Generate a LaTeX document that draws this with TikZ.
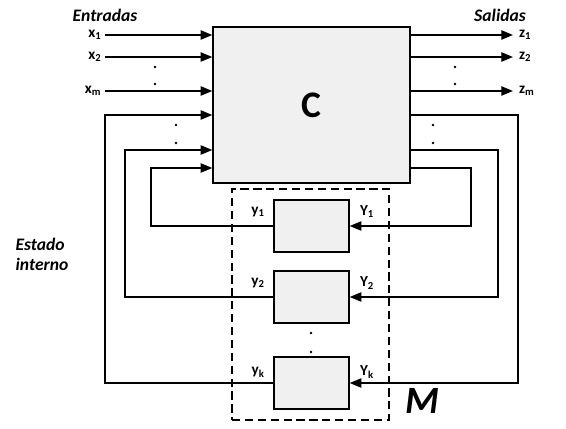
\documentclass[tikz,border=0pt]{standalone}
\usepackage{fontspec}
\setmainfont{Carlito}
\usepackage{tikz}
\usetikzlibrary{arrows.meta,positioning,calc}

\begin{document}
\begin{tikzpicture}[
  x=0.03cm, y=-0.03cm,
  box/.style={draw, line width=1.2pt, fill=gray!12, inner sep=0pt},
  cbox/.style={box, minimum width=5.91cm, minimum height=4.68cm},
  mbox/.style={box, minimum width=2.25cm, minimum height=1.56cm},
  arr/.style={-{Triangle[length=10pt,width=8pt]}, line width=1.2pt},
  lbl/.style={font=\bfseries\fontsize{13}{15}\selectfont, inner sep=1pt},
  title/.style={font=\bfseries\itshape\fontsize{15}{17}\selectfont},
  dot/.style={fill, circle, inner sep=0pt, minimum size=2.4pt}
]
\useasboundingbox (0,0) rectangle (566,429);
% main block and memory
\node[cbox] (C) at (311.5,105) {\fontsize{32}{36}\selectfont\bfseries C};
\node[draw, line width=1pt, dash pattern=on 7pt off 4pt, minimum width=4.71cm, minimum height=6.93cm] (M) at (310.5,304.5) {};
\node[mbox] (m1) at (311.5,226) {};
\node[mbox] (m2) at (311.5,297) {};
\node[mbox] (mk) at (311.5,383) {};

\node[title] at (105,15) {Entradas};
\node[title] at (500,15) {Salidas};
\node[title, align=left] at (42,254) {Estado\\interno};
\node[font=\bfseries\itshape\fontsize{33}{36}\selectfont] at (422,401) {M};

% inputs and outputs
\coordinate (x1) at (105,35);
\coordinate (x2) at (105,57);
\coordinate (xm) at (105,91);
\coordinate (z1) at (513,35);
\coordinate (z2) at (513,57);
\coordinate (zm) at (513,91);
\node[lbl, left=2pt of x1] {x\textsubscript{1}};
\node[lbl, left=2pt of x2] {x\textsubscript{2}};
\node[lbl, left=2pt of xm] {x\textsubscript{m}};
\node[lbl, right=4pt of z1] {z\textsubscript{1}};
\node[lbl, right=4pt of z2] {z\textsubscript{2}};
\node[lbl, right=4pt of zm] {z\textsubscript{m}};
\foreach \p in {x1,x2,xm} \draw[arr] (\p) -- (\p -| C.west);
\foreach \p in {z1,z2,zm} \draw[arr] (\p -| C.east) -- (\p);

% feedback loops
\coordinate (fb1) at (151,168);
\coordinate (fb2) at (125,150);
\coordinate (fbk) at (105,115);
\coordinate (ob1) at (471,168);
\coordinate (ob2) at (498,150);
\coordinate (obk) at (518,115);
\draw[arr] (m1.west) -| (fb1) -- (fb1 -| C.west);
\draw[arr] (m2.west) -| (fb2) -- (fb2 -| C.west);
\draw[arr] (mk.west) -| (fbk) -- (fbk -| C.west);
\draw[arr] (ob1 -| C.east) -- (ob1) |- (m1.east);
\draw[arr] (ob2 -| C.east) -- (ob2) |- (m2.east);
\draw[arr] (obk -| C.east) -- (obk) |- (mk.east);

\node[lbl] at (258,212) {y\textsubscript{1}};
\node[lbl] at (258,283) {y\textsubscript{2}};
\node[lbl] at (258,372) {y\textsubscript{k}};
\node[lbl] at (367,212) {Y\textsubscript{1}};
\node[lbl] at (367,283) {Y\textsubscript{2}};
\node[lbl] at (367,372) {Y\textsubscript{k}};

% dots
\foreach \x/\y in {155/67,155/84,455/67,455/84,176/125,176/143,433/125,433/143,311/333,311/352}
  \node[dot] at (\x,\y) {};
\end{tikzpicture}
\end{document}
